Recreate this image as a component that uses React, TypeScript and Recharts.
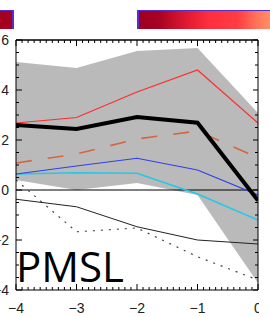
import React from "react";
import { ComposedChart, Line, Area, XAxis, YAxis, ReferenceLine } from "recharts";

// lead time (days) and the values
const leadTimes = [-4, -3, -2, -1, 0];
const spreadHigh = [5.12, 4.88, 5.56, 5.68, 3.08];
const spreadLow = [0.4, 0.0, 0.28, -0.2, -3.72];
const redSeries = [2.68, 2.9, 3.92, 4.8, 2.68];
const meanSeries = [2.6, 2.44, 2.92, 2.69, -0.42];
const dashedSeries = [1.08, 1.44, 2.04, 2.36, 1.29];
const blueSeries = [0.64, 0.96, 1.27, 0.8, -0.2];
const cyanSeries = [0.64, 0.69, 0.67, -0.16, -1.2];
const thinBlackSeries = [-0.37, -0.67, -1.47, -2.0, -2.16];
const dottedSeries = [0.4, -1.67, -1.52, -2.67, -3.6];

const xMajorTicks = [-4, -3, -2, -1, 0];
const yMajorTicks = [-4, -2, 0, 2, 4, 6];
const panelLabel = "PMSL";

// minor ticks: every 0.1 on x, every 0.5 on y
const xMinorTicks = Array.from({ length: 41 }, (_, i) => Math.round((-4 + i * 0.1) * 10) / 10);
const yMinorTicks = Array.from({ length: 21 }, (_, i) => -4 + i * 0.5);

const data = leadTimes.map((t, i) => ({
  t,
  band: [spreadLow[i], spreadHigh[i]],
  red: redSeries[i],
  mean: meanSeries[i],
  dashed: dashedSeries[i],
  blue: blueSeries[i],
  cyan: cyanSeries[i],
  thin: thinBlackSeries[i],
  dotted: dottedSeries[i],
}));

const isMajor = (v: number, majors: number[]) => majors.some((m) => Math.abs(m - v) < 1e-6);
const fmt = (v: number) => (v < 0 ? "\u2212" + Math.abs(v) : String(v));
const labelFont = { fontFamily: "Liberation Sans, Arial, sans-serif", fontSize: 14, fill: "#222" };

const BottomTick = (props: any) => {
  const { x, y, payload } = props;
  const major = isMajor(payload.value, xMajorTicks);
  return (
    <g>
      <line x1={x} x2={x} y1={y} y2={y - (major ? 6 : 3)} stroke="#000" />
      {major && (
        <text x={x} y={y + 23} textAnchor="middle" {...labelFont}>
          {fmt(payload.value)}
        </text>
      )}
    </g>
  );
};

const TopTick = (props: any) => {
  const { x, y, payload } = props;
  const major = isMajor(payload.value, xMajorTicks);
  return <line x1={x} x2={x} y1={y} y2={y + (major ? 6 : 3)} stroke="#000" />;
};

const LeftTick = (props: any) => {
  const { x, y, payload } = props;
  const major = isMajor(payload.value, yMajorTicks);
  return (
    <g>
      <line x1={x} x2={x + (major ? 6 : 3)} y1={y} y2={y} stroke="#000" />
      {major && (
        <text x={x - 7} y={y + 5} textAnchor="end" {...labelFont}>
          {fmt(payload.value)}
        </text>
      )}
    </g>
  );
};

const RightTick = (props: any) => {
  const { x, y, payload } = props;
  const major = isMajor(payload.value, yMajorTicks);
  return <line x1={x} x2={x - (major ? 5 : 3)} y1={y} y2={y} stroke="#000" />;
};

export default function App() {
  return (
    <div
      style={{
        position: "absolute",
        left: 0,
        top: 0,
        width: 270,
        height: 317,
        overflow: "hidden",
        background: "#fff",
      }}
    >
      {/* colour bars of the neighbouring panels */}
      <div
        style={{
          position: "absolute",
          left: 0,
          top: 10,
          width: 12,
          height: 18,
          background: "#a6001f",
          borderRight: "2px solid #5a2bd0",
          borderTop: "1px solid #5a2bd0",
        }}
      />
      <div
        style={{
          position: "absolute",
          left: 137,
          top: 10,
          width: 140,
          height: 18,
          background:
            "linear-gradient(to right, #9c0020 0px, #a80222 20px, #e01a32 48px, #ff2f3f 70px, #ff3c42 98px, #ff7a5c 120px, #ffa070 140px)",
          borderLeft: "2px solid #5a2bd0",
          borderTop: "1px solid #5a2bd0",
        }}
      />

      <div style={{ position: "absolute", left: 0, top: 0, width: 259, height: 317, overflow: "hidden" }}>
        <div style={{ position: "absolute", left: -20, top: 0 }}>
          <ComposedChart
            width={300}
            height={317}
            data={data}
            margin={{ top: 39, right: 21, bottom: 26, left: 35 }}
          >
            <XAxis
              xAxisId="b"
              dataKey="t"
              type="number"
              domain={[-4, 0]}
              ticks={xMinorTicks}
              interval={0}
              height={1}
              tickSize={0}
              tickMargin={0}
              tickLine={false}
              axisLine={{ stroke: "#000" }}
              tick={BottomTick}
              allowDataOverflow
            />
            <XAxis
              xAxisId="t"
              orientation="top"
              dataKey="t"
              type="number"
              domain={[-4, 0]}
              ticks={xMinorTicks}
              interval={0}
              height={1}
              tickSize={0}
              tickMargin={0}
              tickLine={false}
              axisLine={{ stroke: "#000", strokeWidth: 1.5 }}
              tick={TopTick}
              allowDataOverflow
            />
            <YAxis
              yAxisId="l"
              type="number"
              domain={[-4, 6]}
              ticks={yMinorTicks}
              interval={0}
              width={1}
              tickSize={0}
              tickMargin={0}
              tickLine={false}
              axisLine={{ stroke: "#000" }}
              tick={LeftTick}
              allowDataOverflow
            />
            <YAxis
              yAxisId="r"
              orientation="right"
              type="number"
              domain={[-4, 6]}
              ticks={yMinorTicks}
              interval={0}
              width={1}
              tickSize={0}
              tickMargin={0}
              tickLine={false}
              axisLine={{ stroke: "#000" }}
              tick={RightTick}
              allowDataOverflow
            />
            <Area
              xAxisId="b"
              yAxisId="l"
              type="linear"
              dataKey="band"
              fill="#bababa"
              fillOpacity={1}
              stroke="none"
              isAnimationActive={false}
              activeDot={false}
            />
            <ReferenceLine xAxisId="b" yAxisId="l" y={0} stroke="#000" strokeWidth={1} />
            <Line xAxisId="b" yAxisId="l" type="linear" dataKey="dotted" stroke="#444"
              strokeWidth={1.2} strokeDasharray="2 6" dot={false} activeDot={false} isAnimationActive={false} />
            <Line xAxisId="b" yAxisId="l" type="linear" dataKey="thin" stroke="#222"
              strokeWidth={1} dot={false} activeDot={false} isAnimationActive={false} />
            <Line xAxisId="b" yAxisId="l" type="linear" dataKey="cyan" stroke="#22c8ea"
              strokeWidth={1.5} dot={false} activeDot={false} isAnimationActive={false} />
            <Line xAxisId="b" yAxisId="l" type="linear" dataKey="blue" stroke="#3040e8"
              strokeWidth={1.2} dot={false} activeDot={false} isAnimationActive={false} />
            <Line xAxisId="b" yAxisId="l" type="linear" dataKey="dashed" stroke="#d4673f"
              strokeWidth={1.6} strokeDasharray="16 16" dot={false} activeDot={false} isAnimationActive={false} />
            <Line xAxisId="b" yAxisId="l" type="linear" dataKey="red" stroke="#ff2c2c"
              strokeWidth={1.2} dot={false} activeDot={false} isAnimationActive={false} />
            <Line xAxisId="b" yAxisId="l" type="linear" dataKey="mean" stroke="#000"
              strokeWidth={4} dot={false} activeDot={false} isAnimationActive={false} />
          </ComposedChart>
        </div>
      </div>

      <svg
        width={270}
        height={317}
        style={{ position: "absolute", left: 0, top: 0, pointerEvents: "none" }}
      >
        <text x={16} y={282} fontFamily="Open Sans, sans-serif" fontSize={42} fill="#000">
          {panelLabel}
        </text>
      </svg>
    </div>
  );
}
